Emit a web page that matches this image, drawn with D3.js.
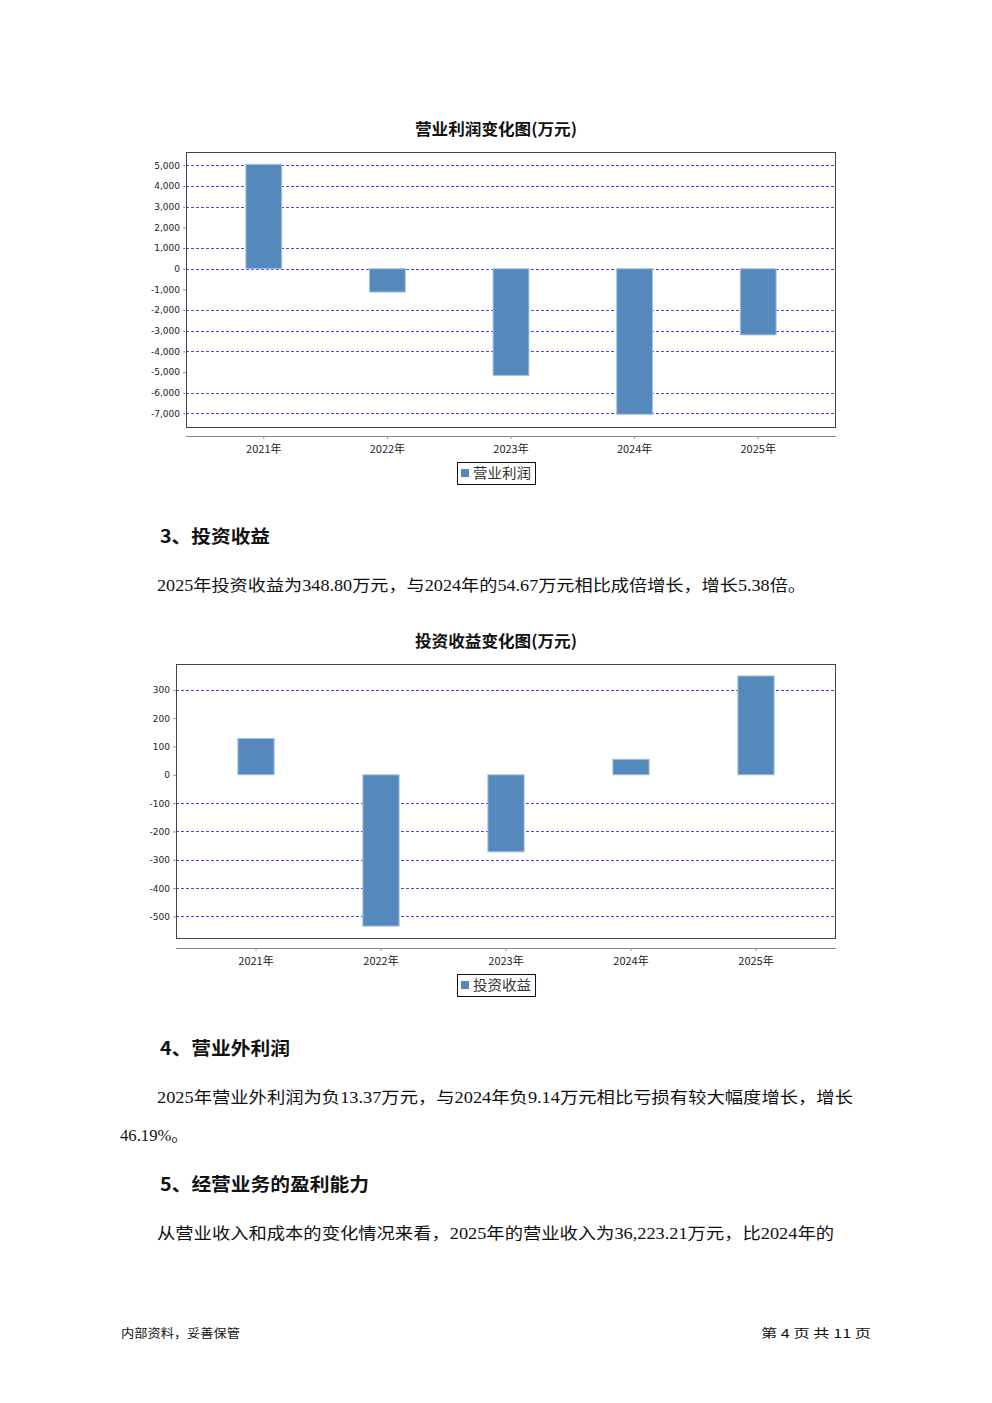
<!DOCTYPE html>
<html><head><meta charset="utf-8">
<script src="https://cdn.jsdelivr.net/npm/d3@7"></script>
<style>body{margin:0;background:#fff}svg{display:block}</style>
</head><body>
<script>
// ---- data ----
const categories = ["2021年","2022年","2023年","2024年","2025年"];
const profitValues = [5050, -1130, -5160, -7040, -3200];
const profitTicks = [5000,4000,3000,2000,1000,0,-1000,-2000,-3000,-4000,-5000,-6000,-7000];
const profitGridHidden = [2000,-1000,-5000];
const investValues = [128, -534, -272, 54.67, 348.80];
const investTicks = [300,200,100,0,-100,-200,-300,-400,-500];
const investGridHidden = [200,100,0];

const svg = d3.select("body").append("svg").attr("width",992).attr("height",1403);
svg.append("rect").attr("width",992).attr("height",1403).attr("fill","#fff");

const CJK = "'Noto Sans CJK SC','Noto Sans',sans-serif";
const SERIF = "'Liberation Serif','Noto Sans CJK SC',serif";
const fmt = d => d3.format(",")(d).replace("\u2212","-");

function drawChart(o){
  const g = svg.append("g");
  g.append("text").attr("x",o.titleX).attr("y",o.titleY).attr("text-anchor","middle")
    .attr("font-family",CJK).attr("font-weight","bold").attr("font-size",16).attr("fill","#111")
    .attr("textLength",o.titleW).attr("lengthAdjust","spacingAndGlyphs").text(o.title);
  const y = d3.scaleLinear().domain(o.domain).range([o.bottom,o.top]);
  const x = d3.scaleBand().domain(categories).range([o.left+o.pad,o.right-o.pad]);
  // grid
  g.selectAll(".grid").data(o.ticks.filter(t=>!o.hidden.includes(t))).join("line")
    .attr("x1",o.left).attr("x2",o.right).attr("y1",d=>Math.round(y(d))+0.5).attr("y2",d=>Math.round(y(d))+0.5)
    .attr("stroke","#4848ff").attr("stroke-width",1).attr("stroke-dasharray","3,2")
    .attr("shape-rendering","crispEdges");
  // bars
  const bw = x.step()*0.29;
  g.selectAll(".bar").data(o.values).join("rect")
    .attr("x",(d,i)=>x(categories[i])+x.bandwidth()/2-bw/2)
    .attr("y",d=>y(Math.max(0,d)))
    .attr("width",bw)
    .attr("height",d=>Math.abs(y(d)-y(0)))
    .attr("fill","#5589bc").attr("stroke","#a8c3e0").attr("stroke-width",1);
  // box
  g.append("rect").attr("x",o.left+0.5).attr("y",o.top+0.5).attr("width",o.right-o.left-1).attr("height",o.bottom-o.top)
    .attr("fill","none").attr("stroke","#444").attr("stroke-width",1);
  // y axis labels
  const ya = g.append("g").attr("transform",`translate(${o.left},0)`)
    .call(d3.axisLeft(y).tickValues(o.ticks).tickSize(3).tickPadding(3).tickFormat(fmt));
  ya.select(".domain").remove();
  ya.selectAll(".tick line").attr("stroke","#999");
  ya.selectAll("text").attr("font-family","'DejaVu Sans',sans-serif").attr("font-size",9).attr("fill","#222");
  // x axis
  const xa = g.append("g").attr("transform",`translate(0,${o.axisY})`)
    .call(d3.axisBottom(x).tickSize(3).tickPadding(6).tickSizeOuter(0));
  xa.select(".domain").attr("d",`M${o.left},0.5H${o.right}`).attr("stroke","#888");
  xa.selectAll(".tick line").attr("stroke","#999");
  xa.selectAll("text").attr("font-family",CJK).attr("font-size",11).attr("fill","#222");
  // legend
  const lg = g.append("g").attr("transform",`translate(${o.legX},${o.legY})`);
  lg.append("rect").attr("x",0.5).attr("y",0.5).attr("width",78).attr("height",22).attr("fill","#fff").attr("stroke","#111");
  lg.append("rect").attr("x",4).attr("y",7).attr("width",8).attr("height",8).attr("fill","#5589bc");
  lg.append("text").attr("x",16).attr("y",16).attr("font-family",CJK).attr("font-size",14).attr("fill","#333")
    .attr("textLength",58).attr("lengthAdjust","spacingAndGlyphs").text(o.legend);
}

drawChart({title:"营业利润变化图(万元)",titleX:496,titleY:135,titleW:162,
  values:profitValues,ticks:profitTicks,hidden:profitGridHidden,domain:[-7655,5646],
  left:186,right:836,top:152,bottom:427,pad:16,axisY:436,legX:457,legY:462,legend:"营业利润"});

drawChart({title:"投资收益变化图(万元)",titleX:496,titleY:647,titleW:162,
  values:investValues,ticks:investTicks,hidden:investGridHidden,domain:[-576,391],
  left:176,right:836,top:664,bottom:938,pad:17.5,axisY:948,legX:457,legY:974,legend:"投资收益"});

// ---- text ----
function txt(s,x,y,opt){
  const t = svg.append("text").attr("x",x).attr("y",y).attr("font-family",opt.family||SERIF)
    .attr("font-size",opt.size||16).attr("fill","#111").text(s);
  if(opt.bold) t.attr("font-weight","bold");
  if(opt.w) t.attr("textLength",opt.w).attr("lengthAdjust","spacingAndGlyphs");
  if(opt.anchor) t.attr("text-anchor",opt.anchor);
}
txt("3、投资收益",160,543,{family:CJK,size:18,bold:true,w:110});
txt("2025年投资收益为348.80万元，与2024年的54.67万元相比成倍增长，增长5.38倍。",157,591,{w:649});
txt("4、营业外利润",160,1055,{family:CJK,size:18,bold:true,w:130});
txt("2025年营业外利润为负13.37万元，与2024年负9.14万元相比亏损有较大幅度增长，增长",157,1103,{w:696});
txt("46.19%。",120,1141,{w:68});
txt("5、经营业务的盈利能力",160,1191,{family:CJK,size:18,bold:true,w:209});
txt("从营业收入和成本的变化情况来看，2025年的营业收入为36,223.21万元，比2024年的",157,1239,{w:677});
txt("内部资料，妥善保管",121,1338,{family:CJK,size:12,w:119});
txt("第 4 页  共 11 页",871,1338,{family:CJK,size:12,w:110,anchor:"end"});
</script>
</body></html>
